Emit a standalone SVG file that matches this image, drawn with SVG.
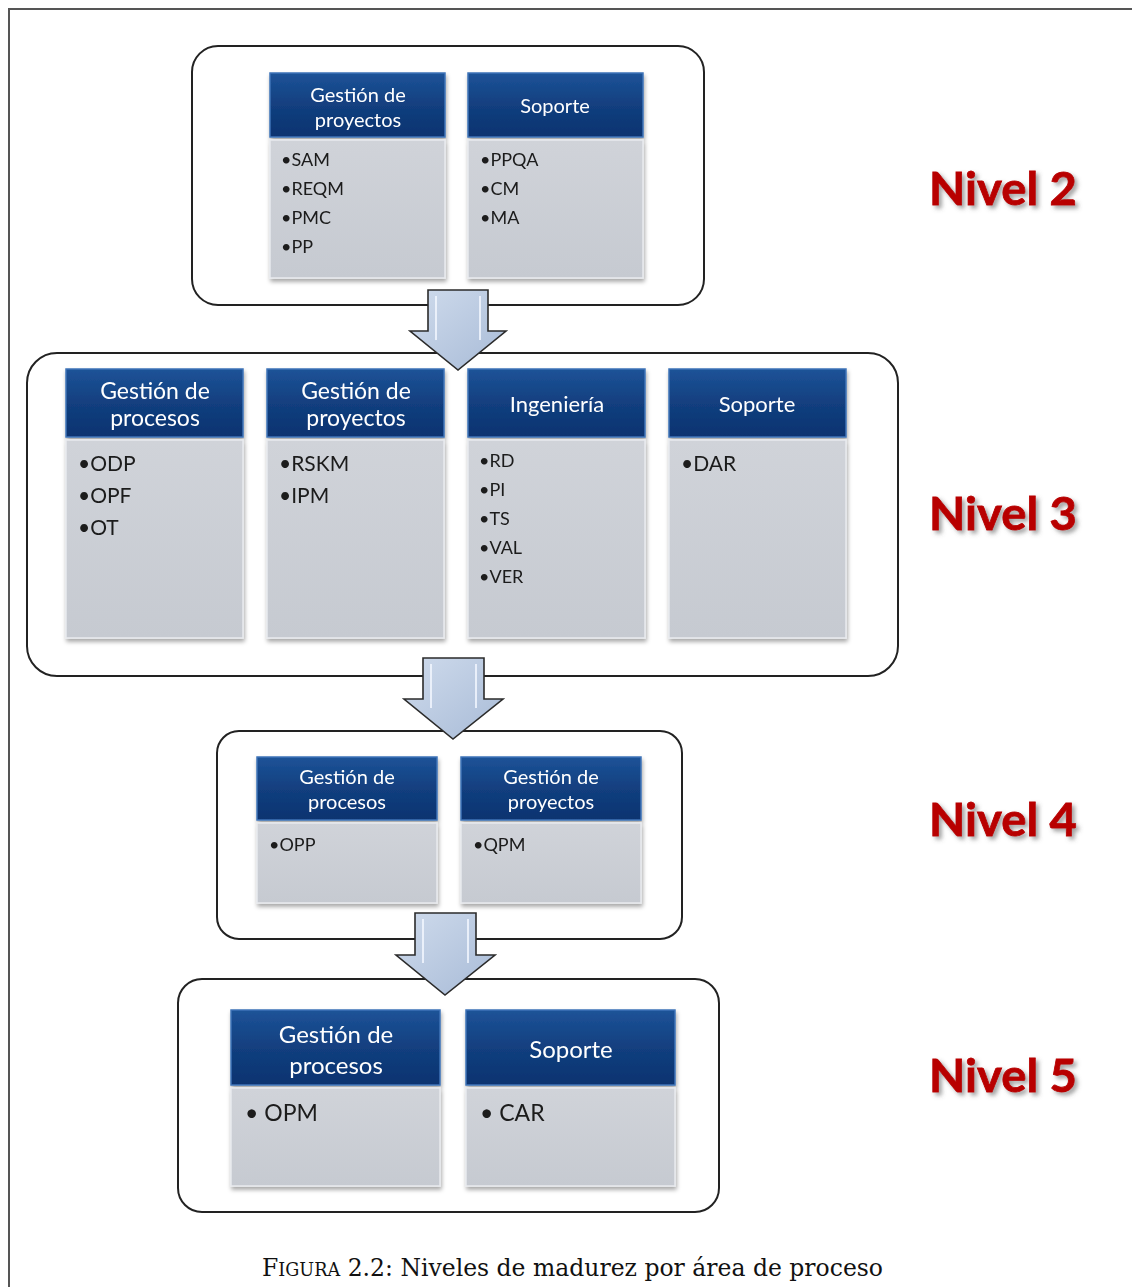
<svg xmlns="http://www.w3.org/2000/svg" width="1132" height="1287" viewBox="0 0 1132 1287">
<defs>
  <linearGradient id="hdr" x1="0" y1="0" x2="0" y2="1">
    <stop offset="0" stop-color="#1d5398"/>
    <stop offset="0.5" stop-color="#123f7f"/>
    <stop offset="1" stop-color="#0c3370"/>
  </linearGradient>
  <linearGradient id="bdy" x1="0" y1="0" x2="0" y2="1">
    <stop offset="0" stop-color="#d0d3d9"/>
    <stop offset="1" stop-color="#c6cad1"/>
  </linearGradient>
  <linearGradient id="arw" x1="0" y1="0" x2="1" y2="1">
    <stop offset="0" stop-color="#cfdbec"/>
    <stop offset="1" stop-color="#a8bbd7"/>
  </linearGradient>
  <filter id="sh" x="-10%" y="-10%" width="125%" height="125%">
    <feDropShadow dx="1" dy="3" stdDeviation="2" flood-color="#000" flood-opacity="0.35"/>
  </filter>
  <filter id="tsh" x="-10%" y="-20%" width="130%" height="150%">
    <feDropShadow dx="3" dy="3" stdDeviation="2" flood-color="#555" flood-opacity="0.55"/>
  </filter>
</defs>
<style>
  .frame{fill:none;stroke:#555;stroke-width:2}
  .cont{fill:#fff;stroke:#222;stroke-width:2}
  .hdr{fill:url(#hdr);stroke:#3f74b8;stroke-width:1.5}
  .bdy{fill:url(#bdy);stroke:#e8eaee;stroke-width:1.5}
  .ht{font-family:Lato,"Open Sans",sans-serif;fill:#fff;text-anchor:middle}
  .it{font-family:Lato,"Open Sans",sans-serif;fill:#1a1a1a}
  .arrow{fill:url(#arw);stroke:#2b2b2b;stroke-width:1.6;stroke-linejoin:miter}
  .hl{fill:none;stroke:#f4f8ff;stroke-width:2;opacity:0.8}
  .nv{font-family:Lato,"Open Sans",sans-serif;font-weight:bold;font-size:46px;fill:#b80000;stroke:#b80000;stroke-width:0.8}
  .cap{font-family:"DejaVu Serif","Liberation Serif",serif;font-size:24px;fill:#111}
</style>

<path class="frame" d="M9,1287 V9 H1132"/>

<!-- Level 2 -->
<g id="level2">
  <rect class="cont" x="192" y="46" width="512" height="259" rx="26"/>
  <g id="l2-proyectos" filter="url(#sh)">
    <rect class="bdy" x="270" y="140" width="175" height="138"/>
    <rect class="hdr" x="270" y="73" width="175" height="64"/>
    <text class="ht" font-size="20" x="358" y="102">Gestión de</text>
    <text class="ht" font-size="20" x="358" y="127">proyectos</text>
    <text class="it" font-size="18" x="281" y="166">•SAM</text>
    <text class="it" font-size="18" x="281" y="195">•REQM</text>
    <text class="it" font-size="18" x="281" y="224">•PMC</text>
    <text class="it" font-size="18" x="281" y="253">•PP</text>
  </g>
  <g id="l2-soporte" filter="url(#sh)">
    <rect class="bdy" x="468" y="140" width="175" height="138"/>
    <rect class="hdr" x="468" y="73" width="175" height="64"/>
    <text class="ht" font-size="20" x="555" y="113">Soporte</text>
    <text class="it" font-size="18" x="480" y="166">•PPQA</text>
    <text class="it" font-size="18" x="480" y="195">•CM</text>
    <text class="it" font-size="18" x="480" y="224">•MA</text>
  </g>
</g>

<!-- Level 3 -->
<g id="level3">
  <rect class="cont" x="27" y="353" width="871" height="323" rx="30"/>
  <g id="l3-procesos" filter="url(#sh)">
    <rect class="bdy" x="66" y="440" width="177" height="198"/>
    <rect class="hdr" x="66" y="369" width="177" height="68"/>
    <text class="ht" font-size="23" x="155" y="399">Gestión de</text>
    <text class="ht" font-size="23" x="155" y="426">procesos</text>
    <text class="it" font-size="21" x="78" y="471">•ODP</text>
    <text class="it" font-size="21" x="78" y="503">•OPF</text>
    <text class="it" font-size="21" x="78" y="535">•OT</text>
  </g>
  <g id="l3-proyectos" filter="url(#sh)">
    <rect class="bdy" x="267" y="440" width="177" height="198"/>
    <rect class="hdr" x="267" y="369" width="177" height="68"/>
    <text class="ht" font-size="23" x="356" y="399">Gestión de</text>
    <text class="ht" font-size="23" x="356" y="426">proyectos</text>
    <text class="it" font-size="21" x="279" y="471">•RSKM</text>
    <text class="it" font-size="21" x="279" y="503">•IPM</text>
  </g>
  <g id="l3-ingenieria" filter="url(#sh)">
    <rect class="bdy" x="468" y="440" width="177" height="198"/>
    <rect class="hdr" x="468" y="369" width="177" height="68"/>
    <text class="ht" font-size="22" x="557" y="412">Ingeniería</text>
    <text class="it" font-size="18" x="479" y="467">•RD</text>
    <text class="it" font-size="18" x="479" y="496">•PI</text>
    <text class="it" font-size="18" x="479" y="525">•TS</text>
    <text class="it" font-size="18" x="479" y="554">•VAL</text>
    <text class="it" font-size="18" x="479" y="583">•VER</text>
  </g>
  <g id="l3-soporte" filter="url(#sh)">
    <rect class="bdy" x="669" y="440" width="177" height="198"/>
    <rect class="hdr" x="669" y="369" width="177" height="68"/>
    <text class="ht" font-size="22" x="757" y="412">Soporte</text>
    <text class="it" font-size="21" x="681" y="471">•DAR</text>
  </g>
</g>

<!-- Level 4 -->
<g id="level4">
  <rect class="cont" x="217" y="731" width="465" height="208" rx="22"/>
  <g id="l4-procesos" filter="url(#sh)">
    <rect class="bdy" x="257" y="823" width="180" height="80"/>
    <rect class="hdr" x="257" y="757" width="180" height="63"/>
    <text class="ht" font-size="20" x="347" y="784">Gestión de</text>
    <text class="ht" font-size="20" x="347" y="809">procesos</text>
    <text class="it" font-size="18" x="269" y="851">•OPP</text>
  </g>
  <g id="l4-proyectos" filter="url(#sh)">
    <rect class="bdy" x="461" y="823" width="180" height="80"/>
    <rect class="hdr" x="461" y="757" width="180" height="63"/>
    <text class="ht" font-size="20" x="551" y="784">Gestión de</text>
    <text class="ht" font-size="20" x="551" y="809">proyectos</text>
    <text class="it" font-size="18" x="473" y="851">•QPM</text>
  </g>
</g>

<!-- Level 5 -->
<g id="level5">
  <rect class="cont" x="178" y="979" width="541" height="233" rx="24"/>
  <g id="l5-procesos" filter="url(#sh)">
    <rect class="bdy" x="231" y="1088" width="209" height="98"/>
    <rect class="hdr" x="231" y="1010" width="209" height="75"/>
    <text class="ht" font-size="24" x="336" y="1043">Gestión de</text>
    <text class="ht" font-size="24" x="336" y="1074">procesos</text>
    <text class="it" font-size="23" x="245" y="1121">• OPM</text>
  </g>
  <g id="l5-soporte" filter="url(#sh)">
    <rect class="bdy" x="466" y="1088" width="209" height="98"/>
    <rect class="hdr" x="466" y="1010" width="209" height="75"/>
    <text class="ht" font-size="24" x="571" y="1058">Soporte</text>
    <text class="it" font-size="23" x="480" y="1121">• CAR</text>
  </g>
</g>

<!-- Connectors (block arrows) -->
<g id="connectors">
  <path class="arrow" d="M428,290 H488 V331 H506 L458,370 L410,331 H428 Z"/>
  <path class="hl" d="M436,296 V340 M480,296 V340"/>
  <path class="arrow" d="M423,658 H484 V699 H503 L453,739 L404,699 H423 Z"/>
  <path class="hl" d="M431,664 V708 M476,664 V708"/>
  <path class="arrow" d="M415,913 H476 V955 H495 L445,995 L396,955 H415 Z"/>
  <path class="hl" d="M423,919 V963 M468,919 V963"/>
</g>

<!-- Level labels -->
<g id="labels" filter="url(#tsh)">
  <text class="nv" x="929" y="205" textLength="148" lengthAdjust="spacingAndGlyphs">Nivel 2</text>
  <text class="nv" x="929" y="530" textLength="148" lengthAdjust="spacingAndGlyphs">Nivel 3</text>
  <text class="nv" x="929" y="836" textLength="148" lengthAdjust="spacingAndGlyphs">Nivel 4</text>
  <text class="nv" x="929" y="1092" textLength="148" lengthAdjust="spacingAndGlyphs">Nivel 5</text>
</g>

<text class="cap" x="262" y="1276" textLength="621" lengthAdjust="spacingAndGlyphs">F<tspan font-size="18">IGURA</tspan> 2.2: Niveles de madurez por área de proceso</text>
</svg>
